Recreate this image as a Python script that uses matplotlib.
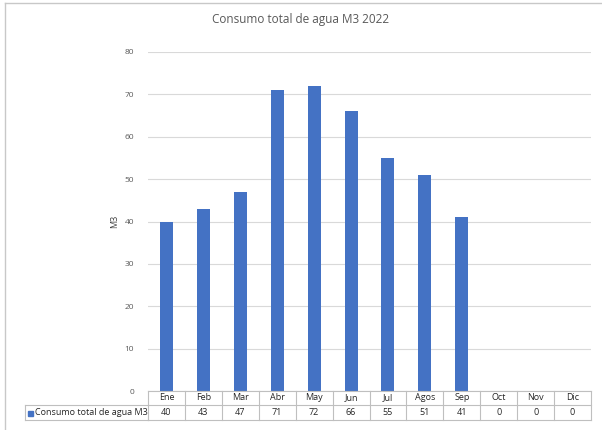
import matplotlib
matplotlib.use("Agg")
import matplotlib.pyplot as plt
from matplotlib.transforms import blended_transform_factory

months = ["Ene", "Feb", "Mar", "Abr", "May", "Jun", "Jul", "Agos", "Sep", "Oct", "Nov", "Dic"]
consumo = [40, 43, 47, 71, 72, 66, 55, 51, 41, 0, 0, 0]
series_name = "Consumo total de agua M3"
title = "Consumo total de agua M3 2022"
yticks = [0, 10, 20, 30, 40, 50, 60, 70, 80]

plt.rcParams['font.family'] = ['Open Sans', 'DejaVu Sans']
W, H = 602, 430
fig = plt.figure(figsize=(W / 100, H / 100), dpi=100)
fig.patch.set_facecolor("white")

bar_color = "#4472C4"
grid_color = "#D9D9D9"
text_gray = "#595959"
line_gray = "#BFBFBF"

ax = fig.add_axes([148 / W, 1 - 391 / H, (591 - 148) / W, (391 - 52) / H])
x = list(range(len(months)))
ax.bar(x, consumo, width=0.35, color=bar_color, zorder=3)
ax.set_xlim(-0.5, len(months) - 0.5)
ax.set_ylim(0, 80)
ax.set_yticks(yticks)
ax.set_yticklabels([str(v) for v in yticks], fontsize=6, color=text_gray)
ax.tick_params(axis="y", length=0, pad=10)
ax.set_xticks([])
ax.grid(axis="y", color=grid_color, linewidth=0.8, zorder=0)
for s in ax.spines.values():
    s.set_visible(False)
ax.set_ylabel("M3", fontsize=6.5, color="#404040", labelpad=4)

fig.text(301 / W, 1 - 19 / H, title, ha="center", va="center",
         fontsize=8.5, color=text_gray)

# Data table
tr = blended_transform_factory(ax.transData, ax.transAxes)
axh = 391 - 52
h1 = -14 / axh
h2 = -29 / axh
kw = dict(color=line_gray, linewidth=0.8, clip_on=False, zorder=5)
ax.plot([-0.5, len(months) - 0.5], [0, 0], transform=tr, **kw)
ax.plot([-0.5, len(months) - 0.5], [h1, h1], transform=tr, **kw)
ax.plot([-0.5, len(months) - 0.5], [h2, h2], transform=tr, **kw)
for i in range(len(months) + 1):
    xv = i - 0.5
    ax.plot([xv, xv], [0, h2], transform=tr, **kw)
left_px = 25
ax.plot([left_px / W, 148 / W], [1 - 405 / H, 1 - 405 / H], transform=fig.transFigure, **kw)
ax.plot([left_px / W, 148 / W], [1 - 420 / H, 1 - 420 / H], transform=fig.transFigure, **kw)
ax.plot([left_px / W, left_px / W], [1 - 405 / H, 1 - 420 / H], transform=fig.transFigure, **kw)
for i, (m, v) in enumerate(zip(months, consumo)):
    ax.text(i, h1 / 2, m, transform=tr, ha="center", va="center", fontsize=6.5, color="#262626")
    ax.text(i, (h1 + h2) / 2, str(v), transform=tr, ha="center", va="center", fontsize=6.5, color="#262626")
fig.patches.append(plt.Rectangle((28 / W, 1 - 415.5 / H), 5 / W, 5 / H, transform=fig.transFigure,
                                 color=bar_color, figure=fig))
fig.text(35 / W, 1 - 412.5 / H, series_name, ha="left", va="center", fontsize=6.5, color="#262626")

fig.add_artist(plt.Line2D([5 / W, 5 / W], [1 - 3 / H, 0], transform=fig.transFigure,
                          color="#C8C8C8", linewidth=1))
fig.add_artist(plt.Line2D([5 / W, 1], [1 - 3 / H, 1 - 3 / H], transform=fig.transFigure,
                          color="#C8C8C8", linewidth=1))

fig.savefig("out.png", dpi=100, facecolor="white")
